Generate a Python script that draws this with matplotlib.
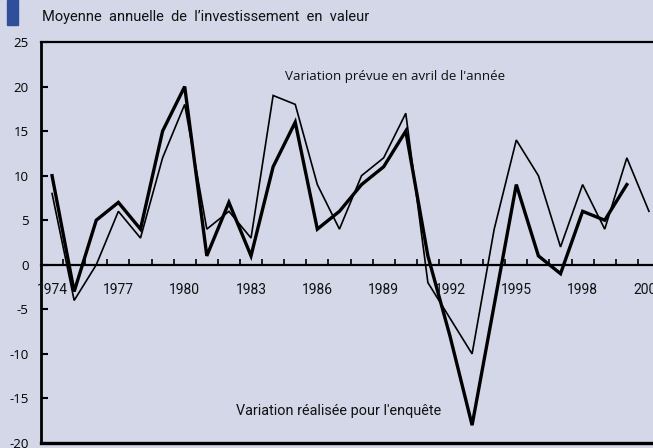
import numpy as np
import matplotlib
matplotlib.use("Agg")
import matplotlib.pyplot as plt

# Data
years = list(range(1974, 2002))
prevue = [8, -4, 0, 6, 3, 12, 18, 4, 6, 3, 19, 18, 9, 4, 10, 12, 17,
          -2, -6, -10, 4, 14, 10, 2, 9, 4, 12, 6]
realisee = [10, -3, 5, 7, 4, 15, 20, 1, 7, 1, 11, 16, 4, 6, 9, 11, 15,
            1, -8, -18, -4.5, 9, 1, -1, 6, 5, 9]
yticks = [25, 20, 15, 10, 5, 0, -5, -10, -15, -20]
label_years = [1974, 1977, 1980, 1983, 1986, 1989, 1992, 1995, 1998, 2001]

BG = '#d3d7e8'
NARROW = ['Roboto', 'DejaVu Sans']
REGULAR = ['Open Sans', 'DejaVu Sans']

W, H = 653, 448
fig = plt.figure(figsize=(W / 100, H / 100), dpi=100)
fig.patch.set_facecolor(BG)

# blue marker block top-left
fig.patches.append(plt.Rectangle((7 / W, 1 - 25 / H), 11 / W, 25 / H,
                                 transform=fig.transFigure, color='#2f4f9b'))
fig.text(42 / W, 1 - 17 / H, "Moyenne  annuelle  de  l\u2019investissement  en  valeur",
         family=NARROW, fontsize=10.5, va='center', ha='left', color='#111111')

left, right = 41 / W, 660 / W
top, bottom = 1 - 42 / H, 1 - 443 / H
ax = fig.add_axes([left, bottom, right - left, top - bottom])
ax.set_facecolor(BG)

x = np.arange(len(years))
ax.plot(x, prevue, color='black', lw=1.2, solid_joinstyle='miter')
ax.plot(np.arange(len(realisee)), realisee, color='black', lw=2.4,
        solid_joinstyle='miter')

ax.set_xlim(-0.5, len(years) - 0.5)
ax.set_ylim(-20, 25)

# spines: left thick, bottom moved to zero line
ax.spines['right'].set_visible(False)
ax.spines['top'].set_visible(False)
ax.spines['left'].set_linewidth(2)
ax.spines['bottom'].set_position(('data', 0))
ax.spines['bottom'].set_linewidth(1.6)
ax.axhline(25, color='black', lw=1.6, clip_on=False)
ax.axhline(-20, color='black', lw=2.4, clip_on=False)

ax.set_yticks(yticks)
ax.set_yticklabels([str(v) for v in yticks], family=REGULAR, fontsize=9.5)
ax.tick_params(axis='y', direction='in', length=5, width=1.5, pad=9)

ax.set_xticks(np.arange(len(years) - 1) + 0.5)
ax.set_xticklabels([])
ax.tick_params(axis='x', which='major', direction='in', length=4, width=1.2)
for yr in label_years:
    ax.text(years.index(yr), -2.8, str(yr), ha='center', va='center',
            family=NARROW, fontsize=10, color='#111111')

ax.text(10.55, 21.1, "Variation pr\u00e9vue en avril de l'ann\u00e9e",
        family=REGULAR, fontsize=9.6, va='center', ha='left', color='#111111')
ax.text(8.3, -16.4, "Variation r\u00e9alis\u00e9e pour l'enqu\u00eate",
        family=NARROW, fontsize=10.4, va='center', ha='left', color='#111111')

fig.savefig('out.png', dpi=100, facecolor=BG)
